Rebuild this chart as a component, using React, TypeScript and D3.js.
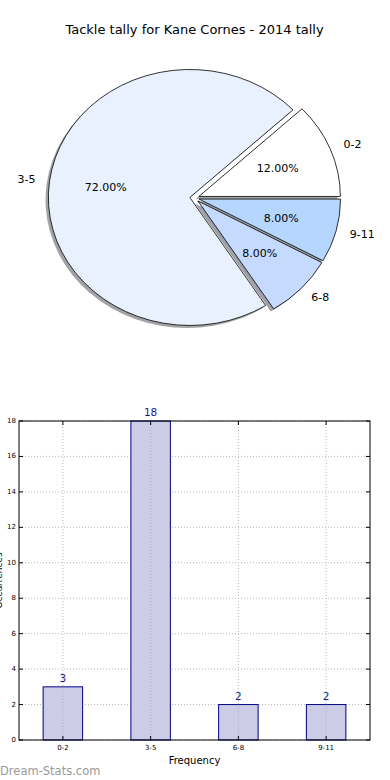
import React from "react";
import * as d3 from "d3";

const categories = ["0-2", "3-5", "6-8", "9-11"];
const values = [3, 18, 2, 2];
const pieColors = ["#ffffff", "#eaf1fe", "#c6d9ff", "#b4d6ff"];
const yTicks = [0, 2, 4, 6, 8, 10, 12, 14, 16, 18];
const title = "Tackle tally for Kane Cornes - 2014 tally";
const xLabel = "Frequency";
const yLabel = "Occurrences";
const watermark = "Dream-Stats.com";

const W = 390;
const H = 780;
const FONT = "DejaVu Sans, sans-serif";

export default function App() {
  // ---- Pie ----
  const cx = 194.5;
  const cy = 198;
  const rx = 141.5;
  const ry = 128;
  const explode = 0.033;
  const total = d3.sum(values);
  const pieGen = d3.pie<number>().sort(null).startAngle(0).endAngle(2 * Math.PI);
  const arcs = pieGen(values);
  const arcGen = d3.arc<any>().innerRadius(0).outerRadius(ry);
  const sx = rx / ry;

  const slices = arcs.map((a, i) => {
    // matplotlib: counterclockwise from east
    const t0 = a.startAngle;
    const t1 = a.endAngle;
    const tm = (t0 + t1) / 2;
    const ox = cx + explode * rx * Math.cos(tm);
    const oy = cy - explode * ry * Math.sin(tm);
    const path = arcGen({ startAngle: Math.PI / 2 - t0, endAngle: Math.PI / 2 - t1 }) as string;
    const lx = ox + 1.1 * rx * Math.cos(tm);
    const ly = oy - 1.1 * ry * Math.sin(tm);
    const px = ox + 0.6 * rx * Math.cos(tm);
    const py = oy - 0.6 * ry * Math.sin(tm);
    const pct = ((values[i] / total) * 100).toFixed(2) + "%";
    return { i, ox, oy, path, lx, ly, px, py, pct, tm };
  });

  const shadowColor = (c: string) => {
    const rgb = d3.rgb(c);
    return d3.rgb(rgb.r * 0.3, rgb.g * 0.3, rgb.b * 0.3).toString();
  };

  // ---- Bars ----
  const left = 19;
  const right = 370;
  const top = 421;
  const bottom = 740;
  const x = d3.scaleLinear().domain([-0.5, categories.length - 0.5]).range([left, right]);
  const y = d3.scaleLinear().domain([0, 18]).range([bottom, top]);
  const barW = 0.45;

  return (
    <svg
      width={W}
      height={H}
      style={{ position: "fixed", left: 0, top: 0, background: "#fff" }}
      fontFamily={FONT}
    >
      <rect x={0} y={0} width={W} height={H} fill="#fff" />
      <text x={194.5} y={34} textAnchor="middle" fontSize={13} fill="#000">
        {title}
      </text>

      {/* shadows */}
      {slices.map((s) => (
        <path
          key={"sh" + s.i}
          d={s.path}
          transform={`translate(${s.ox - 0.02 * rx},${s.oy + 0.02 * ry}) scale(${sx},1)`}
          fill={shadowColor(pieColors[s.i])}
          fillOpacity={0.5}
          stroke="none"
        />
      ))}
      {/* wedges */}
      {slices.map((s) => (
        <path
          key={"w" + s.i}
          d={s.path}
          transform={`translate(${s.ox},${s.oy}) scale(${sx},1)`}
          fill={pieColors[s.i]}
          stroke="#000"
          strokeWidth={0.8}
          vectorEffect="non-scaling-stroke"
          strokeLinejoin="miter"
        />
      ))}
      {slices.map((s) => (
        <text
          key={"l" + s.i}
          x={s.lx}
          y={s.ly}
          textAnchor={Math.cos(s.tm) > 0 ? "start" : "end"}
          dominantBaseline="central"
          fontSize={11}
          fill="#000"
        >
          {categories[s.i]}
        </text>
      ))}
      {slices.map((s) => (
        <text
          key={"p" + s.i}
          x={s.px}
          y={s.py}
          textAnchor="middle"
          dominantBaseline="central"
          fontSize={11}
          fill="#000"
        >
          {s.pct}
        </text>
      ))}

      {/* bar chart grid */}
      {yTicks.map((t) => (
        <line
          key={"gy" + t}
          x1={left}
          x2={right}
          y1={y(t)}
          y2={y(t)}
          stroke="#b8b8b8"
          strokeWidth={1}
          strokeDasharray="1,2"
        />
      ))}
      {categories.map((c, i) => (
        <line
          key={"gx" + c}
          x1={x(i)}
          x2={x(i)}
          y1={top}
          y2={bottom}
          stroke="#b8b8b8"
          strokeWidth={1}
          strokeDasharray="1,2"
        />
      ))}

      {/* bars */}
      {values.map((v, i) => (
        <rect
          key={"b" + i}
          x={x(i - barW / 2)}
          y={y(v)}
          width={x(barW) - x(0)}
          height={y(0) - y(v)}
          fill="#ccccE6"
          stroke="#000080"
          strokeWidth={1}
        />
      ))}
      {/* grid visible through bars */}
      {categories.map((c, i) => (
        <line
          key={"gx2" + c}
          x1={x(i)}
          x2={x(i)}
          y1={y(values[i])}
          y2={bottom}
          stroke="#a0a0a8"
          strokeWidth={1}
          strokeDasharray="1,2"
          strokeOpacity={0.7}
        />
      ))}
      {values.map((v, i) => (
        <text
          key={"v" + i}
          x={x(i)}
          y={y(v) - 5}
          textAnchor="middle"
          fontSize={10.5}
          fill="#1a1a8c"
        >
          {v}
        </text>
      ))}

      {/* frame */}
      <rect x={left} y={top} width={right - left} height={bottom - top} fill="none" stroke="#000" strokeWidth={1} />

      {/* ticks */}
      {yTicks.map((t) => (
        <g key={"ty" + t}>
          <line x1={left} x2={left + 4} y1={y(t)} y2={y(t)} stroke="#000" />
          <line x1={right - 4} x2={right} y1={y(t)} y2={y(t)} stroke="#000" />
          <text x={left - 3} y={y(t)} textAnchor="end" dominantBaseline="central" fontSize={7} fill="#000">
            {t}
          </text>
        </g>
      ))}
      {categories.map((c, i) => (
        <g key={"tx" + c}>
          <line x1={x(i)} x2={x(i)} y1={bottom} y2={bottom - 4} stroke="#000" />
          <line x1={x(i)} x2={x(i)} y1={top} y2={top + 4} stroke="#000" />
          <text x={x(i)} y={bottom + 8} textAnchor="middle" dominantBaseline="central" fontSize={7} fill="#000">
            {c}
          </text>
        </g>
      ))}

      <text x={194.5} y={764} textAnchor="middle" fontSize={10} fill="#000">
        {xLabel}
      </text>
      <text
        transform={`translate(2,${(top + bottom) / 2}) rotate(-90)`}
        textAnchor="middle"
        fontSize={9}
        fill="#000"
      >
        {yLabel}
      </text>
      <text x={0} y={775} fontSize={11.5} fill="#999">
        {watermark}
      </text>
    </svg>
  );
}
